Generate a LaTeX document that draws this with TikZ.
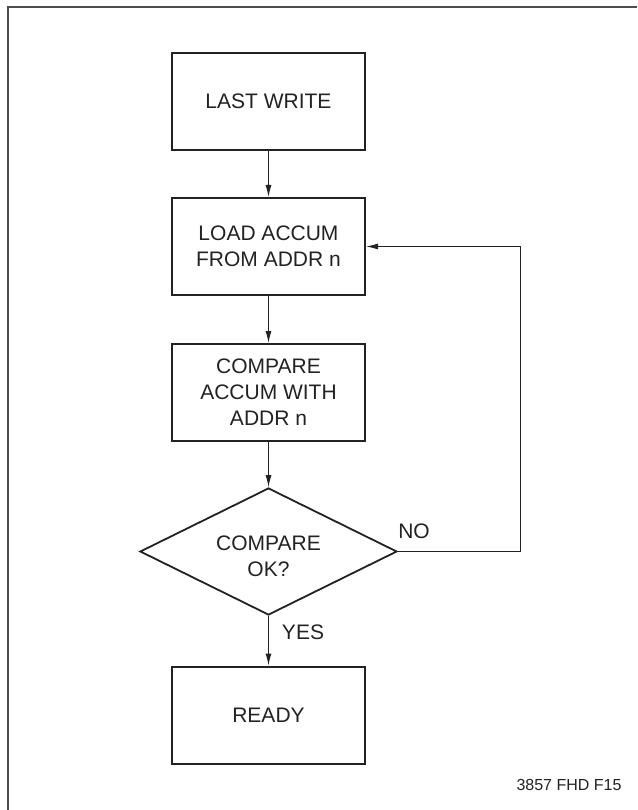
\documentclass[tikz,border=0pt]{standalone}
\usepackage{fontspec}
\setmainfont{Liberation Sans}
\usetikzlibrary{shapes.geometric,arrows.meta}
\definecolor{ink}{HTML}{222222}
\begin{document}
\begin{tikzpicture}[x=1pt,y=-1pt,
  font=\fontsize{21}{26}\selectfont,
  every node/.style={text=ink},
  procbox/.style={draw=ink,line width=2pt,minimum width=193pt,minimum height=97pt,inner sep=0pt,align=center},
  decbox/.style={draw=ink,line width=1.8pt,shape=diamond,shape aspect=2,minimum width=257pt,minimum height=127pt,inner sep=0pt},
  arr/.style={draw=ink,line width=1pt,-{Latex[length=12pt,width=6pt]}},
  lbl/.style={inner sep=0pt}]
\useasboundingbox (0,0) rectangle (637,810);
\coordinate (fa) at (8,810);
\coordinate (fb) at (8,7);
\coordinate (fc) at (637,7);
\draw[draw=ink!80,line width=1.5pt] (fa) -- (fb) -- (fc);

\node[procbox] (b1) at (268.5,101.5) {LAST WRITE};
\node[procbox] (b2) at (268.5,246.5) {LOAD ACCUM\\FROM ADDR n};
\node[procbox] (b3) at (268.5,392.5) {COMPARE\\ACCUM WITH\\ADDR n};
\node[decbox] (d) at (268.5,551.5) {};
\node[lbl,align=center] (dt) at ([yshift=-5pt]d.center) {COMPARE\\OK?};
\node[procbox] (b5) at (268.5,715) {READY};

\draw[arr] (b1) -- (b2);
\draw[arr] (b2) -- (b3);
\draw[arr] (b3) -- (d);
\draw[arr] (d) -- (b5);
\coordinate (r) at (520,551.5);
\draw[arr] (d.east) -- (r) |- (b2.east);

\node[lbl] (no) at (414,531) {NO};
\node[lbl] (yes) at (303,632) {YES};
\node[lbl,font=\fontsize{16}{19}\selectfont] (fig) at (569,785) {3857 FHD F15};
\end{tikzpicture}
\end{document}
